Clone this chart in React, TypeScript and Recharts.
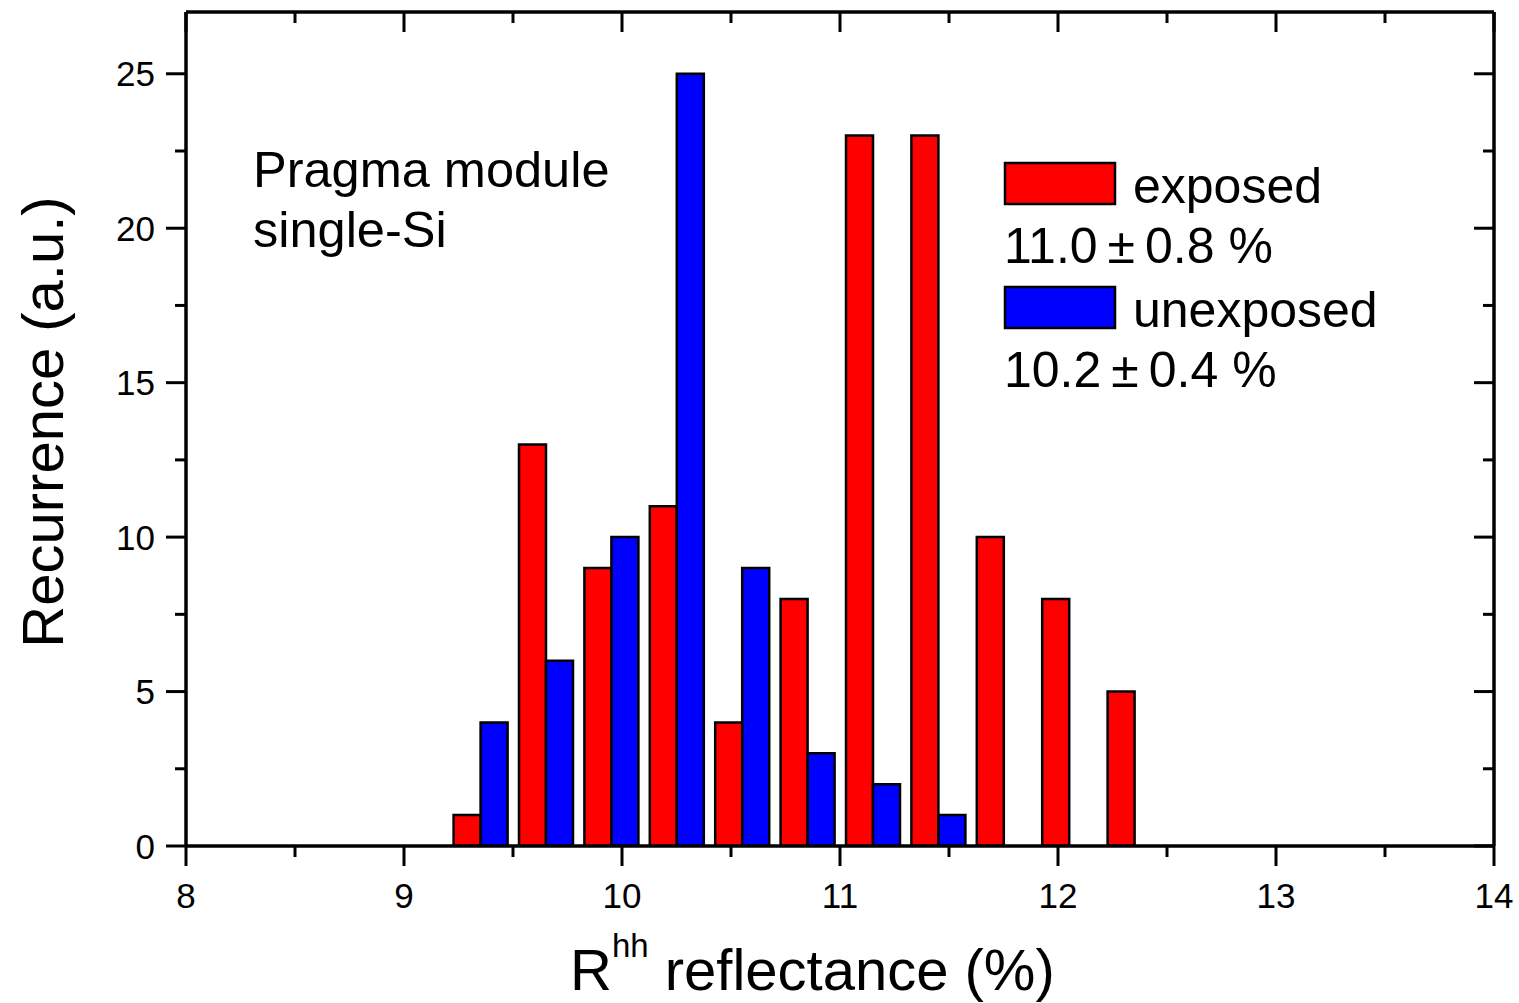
import { BarChart, Bar, XAxis, YAxis } from "recharts";

// histogram bins (centre of each 0.3 % wide bin)
const BIN_CENTERS = [9.35, 9.65, 9.95, 10.25, 10.55, 10.85, 11.15, 11.45, 11.75, 12.05, 12.35];
const EXPOSED = [1, 13, 9, 11, 4, 8, 23, 23, 10, 8, 5];
const UNEXPOSED = [4, 6, 10, 25, 9, 3, 2, 1, 0, 0, 0];

const X_TICKS = [8, 8.5, 9, 9.5, 10, 10.5, 11, 11.5, 12, 12.5, 13, 13.5, 14];
const Y_TICKS = [0, 2.5, 5, 7.5, 10, 12.5, 15, 17.5, 20, 22.5, 25];

const SERIES = [
  { key: "exposed", label: "exposed", stat: "11.0\u2009±\u20090.8 %", color: "#ff0000" },
  { key: "unexposed", label: "unexposed", stat: "10.2\u2009±\u20090.4 %", color: "#0000ff" },
];

const FONT = "'Liberation Sans', Arial, sans-serif";

const data = BIN_CENTERS.map((x, i) => ({
  x,
  exposed: EXPOSED[i],
  unexposed: UNEXPOSED[i],
}));

const isMajorX = (v: number) => Math.abs(v - Math.round(v)) < 1e-6;
const isMajorY = (v: number) => Math.abs(v % 5) < 1e-6;

const AXIS_LINE = { stroke: "#000", strokeWidth: 3.5 };

// left: ticks point outwards, with labels
const LeftTick = ({ x, y, payload }: any) => {
  const major = isMajorY(payload.value);
  return (
    <g>
      <line x1={x - (major ? 20 : 11)} x2={x} y1={y} y2={y} stroke="#000" strokeWidth={3} />
      {major && (
        <text x={x - 31} y={y} dy="0.36em" textAnchor="end" fontSize={35} fontFamily={FONT} fill="#000">
          {payload.value}
        </text>
      )}
    </g>
  );
};

// right: mirror axis, ticks point inwards
const RightTick = ({ x, y, payload }: any) => {
  const major = isMajorY(payload.value);
  return <line x1={x} x2={x - (major ? 20 : 11)} y1={y} y2={y} stroke="#000" strokeWidth={3} />;
};

const BottomTick = ({ x, y, payload }: any) => {
  const major = isMajorX(payload.value);
  return (
    <g>
      <line x1={x} x2={x} y1={y} y2={y + (major ? 20 : 11)} stroke="#000" strokeWidth={3} />
      {major && (
        <text x={x} y={y + 62} textAnchor="middle" fontSize={35} fontFamily={FONT} fill="#000">
          {payload.value}
        </text>
      )}
    </g>
  );
};

const TopTick = ({ x, y, payload }: any) => {
  const major = isMajorX(payload.value);
  return <line x1={x} x2={x} y1={y} y2={y + (major ? 20 : 11)} stroke="#000" strokeWidth={3} />;
};

export default function App() {
  return (
    <div style={{ position: "absolute", left: 0, top: 0, width: 1519, height: 1003, background: "#fff" }}>
      <BarChart
        width={1519}
        height={1003}
        data={data}
        margin={{ top: 11, right: 24, bottom: 0, left: 0 }}
        barSize={27}
        barGap={0}
      >
        <XAxis
          dataKey="x"
          type="number"
          scale="linear"
          domain={[8, 14]}
          ticks={X_TICKS}
          interval={0}
          height={157}
          tickSize={0}
          tickMargin={0}
          tickLine={false}
          tick={<BottomTick />}
          axisLine={AXIS_LINE}
          allowDataOverflow
        />
        <XAxis
          xAxisId="top"
          orientation="top"
          dataKey="x"
          type="number"
          scale="linear"
          domain={[8, 14]}
          ticks={X_TICKS}
          interval={0}
          height={1}
          tickSize={0}
          tickMargin={0}
          tickLine={false}
          tick={<TopTick />}
          axisLine={AXIS_LINE}
          allowDataOverflow
        />
        <YAxis
          type="number"
          domain={[0, 27]}
          ticks={Y_TICKS}
          interval={0}
          width={186}
          tickSize={0}
          tickMargin={0}
          tickLine={false}
          tick={<LeftTick />}
          axisLine={AXIS_LINE}
          allowDataOverflow
        />
        <YAxis
          yAxisId="right"
          orientation="right"
          type="number"
          domain={[0, 27]}
          ticks={Y_TICKS}
          interval={0}
          width={1}
          tickSize={0}
          tickMargin={0}
          tickLine={false}
          tick={<RightTick />}
          axisLine={AXIS_LINE}
          allowDataOverflow
        />
        {SERIES.map((s) => (
          <Bar
            key={s.key}
            dataKey={s.key}
            fill={s.color}
            stroke="#000"
            strokeWidth={2.5}
            isAnimationActive={false}
          />
        ))}
      </BarChart>

      <svg
        width={1519}
        height={1003}
        style={{ position: "absolute", left: 0, top: 0, pointerEvents: "none" }}
        fontFamily={FONT}
      >
        {/* annotation */}
        <text x={253} y={187} fontSize={50.5} fill="#000">Pragma module</text>
        <text x={253} y={247} fontSize={50.5} fill="#000">single-Si</text>

        {/* legend */}
        {SERIES.map((s, i) => (
          <g key={s.key} transform={`translate(0, ${i * 124})`}>
            <rect x={1005} y={163} width={110} height={41} fill={s.color} stroke="#000" strokeWidth={2.5} />
            <text x={1133} y={203} fontSize={50} fill="#000">{s.label}</text>
            <text x={1004} y={263} fontSize={50} fill="#000">{s.stat}</text>
          </g>
        ))}

        {/* axis titles */}
        <text
          transform="translate(63, 422) rotate(-90)"
          textAnchor="middle"
          fontSize={58}
          fill="#000"
        >
          Recurrence (a.u.)
        </text>
        <text x={570} y={990} fontSize={58} fill="#000">
          <tspan>R</tspan>
          <tspan fontSize={33} dy={-33}>hh</tspan>
          <tspan dy={33}> reflectance (%)</tspan>
        </text>
      </svg>
    </div>
  );
}
